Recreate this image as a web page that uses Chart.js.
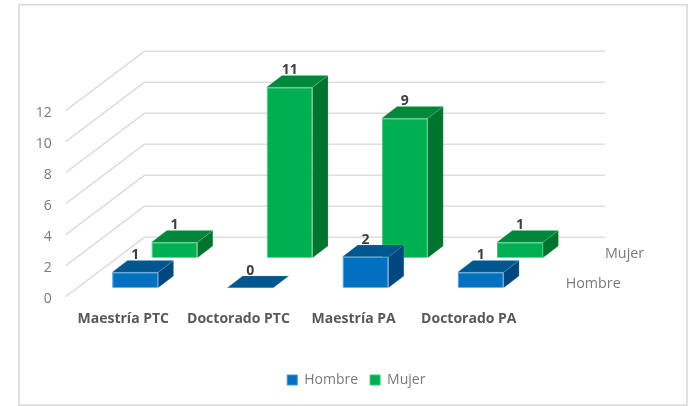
<!DOCTYPE html>
<html><head><meta charset="utf-8">
<style>html,body{margin:0;padding:0;background:#fff}#w{width:688px;height:406px}canvas{display:block}</style>
<script src="https://cdn.jsdelivr.net/npm/chart.js@4"></script>
</head><body><div id="w"><canvas id="c" width="688" height="406"></canvas></div>
<script>
const categories = ["Maestría PTC", "Doctorado PTC", "Maestría PA", "Doctorado PA"];
const hombre = [1, 0, 2, 1];
const mujer = [1, 11, 9, 1];
const FONT = '"Open Sans", sans-serif';

// 3D projection settings
const wallDX = 78.6, wallDY = -59.4, wallRight = 605;
const barDX = 15.3, barDY = -11.7;
const rowOffset = [{x: 11.9, y: -9}, {x: 51.2, y: -39}];
const faces = [
  {top: '#00568F', side: '#00467F', edge: 'rgba(120,180,230,.4)'},
  {top: '#00873B', side: '#00732F', edge: 'rgba(110,215,150,.4)'}
];

function poly(ctx, pts, fill, edge) {
  ctx.beginPath();
  pts.forEach((p, i) => i ? ctx.lineTo(p[0], p[1]) : ctx.moveTo(p[0], p[1]));
  ctx.closePath();
  ctx.fillStyle = fill; ctx.fill();
  if (edge) { ctx.strokeStyle = edge; ctx.lineWidth = .6; ctx.stroke(); }
}

const frame3d = {
  id: 'frame3d',
  beforeDatasetsDraw(chart) {
    const {ctx, chartArea: a, scales: {y}} = chart;
    ctx.save();
    ctx.strokeStyle = '#DEDEDE'; ctx.lineWidth = 1.6;
    y.ticks.forEach(t => {
      const py = y.getPixelForValue(t.value);
      ctx.beginPath();
      ctx.moveTo(a.left, py);
      ctx.lineTo(a.left + wallDX, py + wallDY);
      ctx.lineTo(wallRight, py + wallDY);
      ctx.stroke();
    });
    ctx.restore();
  },
  beforeDatasetDraw(chart, args) {
    const o = rowOffset[args.index];
    chart.ctx.save();
    chart.ctx.translate(o.x, o.y);
  },
  afterDatasetDraw(chart, args) {
    const ctx = chart.ctx, f = faces[args.index];
    args.meta.data.forEach(b => {
      const l = b.x - b.width / 2, r = b.x + b.width / 2, t = b.y, bs = b.base;
      if (bs - t > .5) poly(ctx, [[r, t], [r + barDX, t + barDY], [r + barDX, bs + barDY], [r, bs]], f.side, f.edge);
      poly(ctx, [[l, t], [l + barDX, t + barDY], [r + barDX, t + barDY], [r, t]], f.top, f.edge);
    });
    ctx.restore();
  },
  afterDatasetsDraw(chart) {
    const {ctx, chartArea: a} = chart;
    ctx.save();
    ctx.textAlign = 'center'; ctx.textBaseline = 'middle';
    ctx.font = 'bold 14px ' + FONT; ctx.fillStyle = '#404040';
    chart.data.datasets.forEach((ds, i) => {
      const o = rowOffset[i];
      chart.getDatasetMeta(i).data.forEach((b, j) => {
        ctx.fillText(String(ds.data[j]), b.x + o.x, b.y + o.y + barDY - 5);
      });
    });
    ctx.textAlign = 'left';
    ctx.font = '14.3px ' + FONT; ctx.fillStyle = '#7A7A7A';
    chart.data.datasets.forEach((ds, i) => {
      const o = rowOffset[i];
      ctx.fillText(ds.label, a.right + o.x + 27.4, a.bottom + o.y - 4);
    });
    ctx.strokeStyle = '#DADADA'; ctx.lineWidth = 1.6;
    ctx.strokeRect(19, 4.8, 668, 400.4);
    ctx.restore();
  }
};

new Chart(document.getElementById('c'), {
  type: 'bar',
  data: {
    labels: categories,
    datasets: [
      {label: 'Hombre', data: hombre, backgroundColor: '#0070C0', borderColor: '#3F94D2', borderWidth: 1, clip: false},
      {label: 'Mujer', data: mujer, backgroundColor: '#00B050', borderColor: '#3FC47C', borderWidth: 1, clip: false}
    ]
  },
  options: {
    responsive: false,
    animation: false,
    layout: {padding: {left: 24.6, right: 0, top: 110.7, bottom: 9}},
    datasets: {bar: {grouped: false, barPercentage: .4, categoryPercentage: 1}},
    scales: {
      x: {
        afterFit: s => { s.height = 64.3; },
        grid: {display: false, drawTicks: false},
        border: {display: false},
        ticks: {padding: 14, autoSkip: false, maxRotation: 0, color: '#595959', font: {family: FONT, size: 14, weight: 'bold'}}
      },
      y: {
        min: 0, max: 12,
        afterFit: s => { s.width = 41.1; },
        grid: {display: false, drawTicks: false},
        border: {display: false},
        ticks: {stepSize: 2, padding: 14, labelOffset: 2.5, color: '#7A7A7A', font: {family: FONT, size: 14}}
      },
      gutter: {
        type: 'linear', position: 'right',
        afterFit: s => { s.width = 161.6; },
        grid: {display: false, drawTicks: false},
        border: {display: false},
        ticks: {display: false}
      }
    },
    plugins: {
      tooltip: {enabled: false},
      legend: {
        position: 'bottom',
        labels: {boxWidth: 10, boxHeight: 10, padding: 12, color: '#7A7A7A', font: {family: FONT, size: 14}}
      }
    }
  },
  plugins: [frame3d]
});
</script></body></html>
